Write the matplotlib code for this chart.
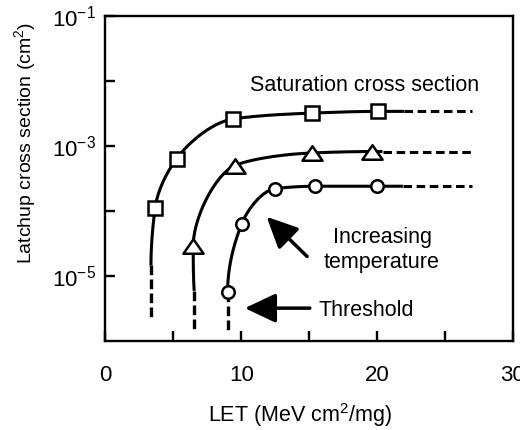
import numpy as np
import matplotlib
matplotlib.use("Agg")
import matplotlib.pyplot as plt
from matplotlib.path import Path
from matplotlib.ticker import FixedLocator, FuncFormatter, NullLocator

plt.rcParams["font.family"] = ["Liberation Sans", "DejaVu Sans"]
plt.rcParams["mathtext.fontset"] = "custom"
plt.rcParams["mathtext.rm"] = "Liberation Sans"
plt.rcParams["mathtext.it"] = "Liberation Sans:italic"
plt.rcParams["mathtext.bf"] = "Liberation Sans:bold"

# Measured latchup cross sections (cm^2) versus LET (MeV cm^2/mg)
let_sq = [3.66, 5.25, 9.41, 15.18, 20.07]
xs_sq = [1.1e-4, 6.4e-4, 2.6e-3, 3.2e-3, 3.4e-3]

let_tri = [6.47, 9.54, 15.18, 19.59]
xs_tri = [2.9e-5, 5.0e-4, 7.8e-4, 8.2e-4]

let_cir = [9.0, 10.03, 12.48, 15.42, 19.96]
xs_cir = [5.6e-6, 6.3e-5, 2.2e-4, 2.4e-4, 2.4e-4]

# Threshold LET of each curve and how far the vertical rise is drawn
threshold_let = [3.36, 6.54, 9.0]
solid_floor = [1.45e-5, 5.9e-6, None]
dashed_floor = [2.1e-6, 1.45e-6, 1.35e-6]

# Where the fitted curves stop and the saturation extrapolation ends
solid_end_let = [22.0, 20.4, 21.9]
dashed_end_let = 27.0

x_ticks = [0, 5, 10, 15, 20, 25, 30]
x_labelled = [0, 10, 20, 30]
y_ticks = [1e-5, 1e-4, 1e-3, 1e-2, 1e-1]
y_labelled = [1e-5, 1e-3, 1e-1]


def pchip(t, v, tt):
    """Monotone cubic (Fritsch-Carlson) interpolation of v(t) at tt."""
    t = np.asarray(t, float)
    v = np.asarray(v, float)
    h = np.diff(t)
    delta = np.diff(v) / h
    n = len(t)
    d = np.zeros(n)
    for k in range(1, n - 1):
        if delta[k - 1] * delta[k] > 0:
            w1 = 2 * h[k] + h[k - 1]
            w2 = h[k] + 2 * h[k - 1]
            d[k] = (w1 + w2) / (w1 / delta[k - 1] + w2 / delta[k])

    def end_slope(h0, h1, d0, d1):
        s = ((2 * h0 + h1) * d0 - h0 * d1) / (h0 + h1)
        if np.sign(s) != np.sign(d0):
            s = 0.0
        elif np.sign(d0) != np.sign(d1) and abs(s) > abs(3 * d0):
            s = 3 * d0
        return s

    if n > 2:
        d[0] = end_slope(h[0], h[1], delta[0], delta[1])
        d[-1] = end_slope(h[-1], h[-2], delta[-1], delta[-2])
    else:
        d[:] = delta[0]
    idx = np.clip(np.searchsorted(t, tt) - 1, 0, n - 2)
    s = (tt - t[idx]) / h[idx]
    h00 = 2 * s**3 - 3 * s**2 + 1
    h10 = s**3 - 2 * s**2 + s
    h01 = -2 * s**3 + 3 * s**2
    h11 = s**3 - s**2
    return (h00 * v[idx] + h10 * h[idx] * d[idx]
            + h01 * v[idx + 1] + h11 * h[idx] * d[idx + 1])


def smooth_through(ax, xs, ys, n=300):
    """Smooth parametric curve through points, built in display space."""
    pts = ax.transData.transform(np.column_stack([xs, ys]))
    seg = np.hypot(*np.diff(pts, axis=0).T)
    t = np.concatenate([[0], np.cumsum(seg)])
    tt = np.linspace(0, t[-1], n)
    px = pchip(t, pts[:, 0], tt)
    py = pchip(t, pts[:, 1], tt)
    out = ax.transData.inverted().transform(np.column_stack([px, py]))
    return out[:, 0], out[:, 1]


fig = plt.figure(figsize=(5.2, 4.3), dpi=100)
ax = fig.add_axes([0.2025, 0.207, 0.784, 0.756])
ax.set_yscale("log")
ax.set_xlim(0, 30)
ax.set_ylim(1e-6, 1e-1)

lw = 2.2
tri_path = Path([(0, 0.72), (-1, -0.72), (1, -0.72), (0, 0.72)],
                [Path.MOVETO, Path.LINETO, Path.LINETO, Path.CLOSEPOLY])
series = [
    (let_sq, xs_sq, "s", 10.0),
    (let_tri, xs_tri, tri_path, 14.5),
    (let_cir, xs_cir, "o", 9.0),
]

for i, (lets, xs, marker, ms) in enumerate(series):
    x_th = threshold_let[i]
    cx = list(lets)
    cy = list(xs)
    if solid_floor[i] is not None:
        cx = [x_th] + cx
        cy = [solid_floor[i]] + cy
        dash_top = solid_floor[i]
    else:
        dash_top = xs[0]
    cx = cx + [solid_end_let[i]]
    cy = cy + [xs[-1]]
    sx, sy = smooth_through(ax, cx, cy)
    ax.plot(sx, sy, color="black", lw=lw, solid_capstyle="butt", zorder=2)

    # vertical threshold extrapolation
    ax.plot([x_th, x_th], [dash_top, dashed_floor[i]], color="black",
            lw=lw + 0.2, linestyle=(0, (2.9, 1.3)), dash_capstyle="butt",
            zorder=2)
    # saturation extrapolation
    ax.plot([solid_end_let[i], dashed_end_let], [xs[-1], xs[-1]],
            color="black", lw=lw, linestyle=(0, (2.8, 1.5)),
            dash_capstyle="butt", zorder=2)

    ax.plot(lets, xs, linestyle="none", marker=marker, markersize=ms,
            markerfacecolor="white", markeredgecolor="black",
            markeredgewidth=1.8, zorder=3)

# annotations
txt = 15.5
ax.text(10.66, 7.1e-3, "Saturation cross section", fontsize=txt,
        ha="left", va="baseline")
ax.text(20.4, 3.2e-5, "Increasing", fontsize=txt, ha="center",
        va="baseline")
ax.text(20.3, 1.34e-5, "temperature", fontsize=txt, ha="center",
        va="baseline")
ax.text(15.7, 2.4e-6, "Threshold", fontsize=txt, ha="left",
        va="baseline")

arrow = dict(arrowstyle="-|>,head_length=0.95,head_width=0.45",
             color="black", lw=2.5, shrinkA=0, shrinkB=0,
             mutation_scale=20)
ax.annotate("", xy=(11.87, 10**-4.09), xytext=(14.85, 10**-4.70),
            arrowprops=arrow)
ax.annotate("", xy=(10.27, 3.2e-6), xytext=(15.05, 3.2e-6),
            arrowprops=arrow)

# axes styling
for sp in ax.spines.values():
    sp.set_linewidth(1.7)

ax.xaxis.set_major_locator(FixedLocator(x_ticks))
ax.xaxis.set_major_formatter(FuncFormatter(
    lambda v, p: f"{v:g}" if any(abs(v - t) < 1e-9 for t in x_labelled) else ""))
ax.xaxis.set_minor_locator(NullLocator())


def y_fmt(v, p):
    for t in y_labelled:
        if abs(np.log10(v) - np.log10(t)) < 1e-6:
            return r"$10^{%d}$" % round(np.log10(t))
    return ""


ax.yaxis.set_major_locator(FixedLocator(y_ticks))
ax.yaxis.set_major_formatter(FuncFormatter(y_fmt))
ax.yaxis.set_minor_locator(NullLocator())

ax.tick_params(axis="both", which="major", direction="in", length=7,
               width=1.7, labelsize=16)
ax.tick_params(axis="x", pad=17)
ax.tick_params(axis="y", pad=7)

ax.set_xlabel(r"LET (MeV cm$^2$/mg)", fontsize=15.5, va="center")
ax.xaxis.set_label_coords(0.478, -0.227)
ax.set_ylabel(r"Latchup cross section (cm$^2$)", fontsize=14, va="center")
ax.yaxis.set_label_coords(-0.196, 0.609)

fig.savefig("out.png", dpi=100, facecolor="white")
